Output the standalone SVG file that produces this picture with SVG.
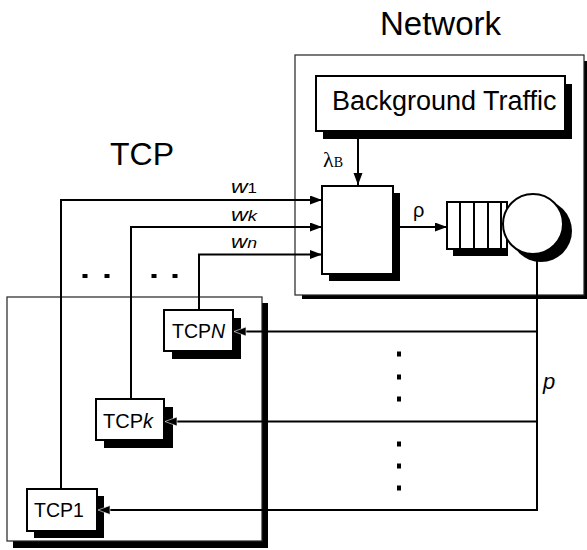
<svg xmlns="http://www.w3.org/2000/svg" width="587" height="550" viewBox="0 0 587 550">
  <style>
    .frame { fill: #fff; stroke: #222; stroke-width: 1.2; }
    .box { fill: #fff; stroke: #000; stroke-width: 2; }
    .shadow { fill: #000; }
    .wire { fill: none; stroke: #000; stroke-width: 2; }
    .sans { font-family: "Liberation Sans", Arial, sans-serif; fill: #000; }
    .serif { font-family: "Liberation Serif", "Times New Roman", serif; fill: #000; }
    .it { font-style: italic; }
    .dot { fill: #000; }
  </style>
  <defs>
    <marker id="arrow" markerUnits="userSpaceOnUse" markerWidth="13" markerHeight="10" refX="12" refY="4.5" orient="auto">
      <path d="M0,0 L12,4.5 L0,9 z" fill="#000"/>
    </marker>
    <marker id="arrowEdge" markerUnits="userSpaceOnUse" markerWidth="14" markerHeight="11" refX="12.5" refY="5" orient="auto">
      <path d="M0.5,0.5 L12.5,5 L0.5,9.5 z" fill="#000" stroke="#fff" stroke-width="0.6"/>
    </marker>
  </defs>

  <!-- titles -->
  <text class="sans" x="380" y="35" font-size="33">Network</text>
  <text class="sans" x="110" y="165" font-size="32">TCP</text>

  <!-- network enclosure -->
  <g id="network">
    <rect class="shadow" x="302" y="61" width="285" height="238"/>
    <rect class="frame" x="295" y="55" width="289" height="240"/>
  </g>

  <!-- TCP enclosure -->
  <g id="tcp-group">
    <rect class="shadow" x="13" y="303" width="255" height="245"/>
    <rect class="frame" x="7" y="297" width="255" height="244"/>
  </g>

  <g id="background-traffic">
    <rect class="shadow" x="323" y="84" width="249" height="55"/>
    <rect class="box" x="316" y="76" width="249" height="55"/>
    <text class="sans" x="332" y="110" font-size="27">Background Traffic</text>
  </g>

  <g id="mux">
    <rect class="shadow" x="329" y="193" width="71" height="88"/>
    <rect class="box" x="322" y="186" width="71" height="88"/>
  </g>

  <g id="queue">
    <rect class="shadow" x="453" y="209" width="55" height="47"/>
    <rect class="box" x="447" y="202" width="60" height="47"/>
    <path class="wire" d="M460,202 V249 M474,202 V249 M488,202 V249 M501,202 V249"/>
    <circle class="shadow" cx="541" cy="231" r="31"/>
    <circle class="box" cx="533" cy="224" r="30"/>
  </g>

  <g id="tcpN">
    <rect class="shadow" x="172" y="318" width="69" height="41"/>
    <rect class="box" x="164" y="310" width="69" height="41"/>
    <text class="sans" x="172" y="338" font-size="19.5">TCP<tspan class="it">N</tspan></text>
  </g>

  <g id="tcpk">
    <rect class="shadow" x="104" y="407" width="69" height="41"/>
    <rect class="box" x="96" y="399" width="68" height="41"/>
    <text class="sans" x="103" y="428" font-size="20">TCP<tspan class="it">k</tspan></text>
  </g>

  <g id="tcp1">
    <rect class="shadow" x="34" y="496" width="70" height="42"/>
    <rect class="box" x="27" y="489" width="70" height="42"/>
    <text class="sans" x="34" y="517" font-size="19.5">TCP1</text>
  </g>

  <!-- connectors -->
  <g id="connectors">
    <path class="wire" d="M358,139 V185" marker-end="url(#arrow)"/>
    <path class="wire" d="M61,489 V200 H322" marker-end="url(#arrow)"/>
    <path class="wire" d="M131,399 V227 H322" marker-end="url(#arrow)"/>
    <path class="wire" d="M199,310 V254.5 H322" marker-end="url(#arrow)"/>
    <path class="wire" d="M393,227 H447" marker-end="url(#arrow)"/>
    <path class="wire" d="M537,255 V510"/>
    <path class="wire" d="M538,331.5 H234" marker-end="url(#arrowEdge)"/>
    <path class="wire" d="M538,421.5 H165" marker-end="url(#arrowEdge)"/>
    <path class="wire" d="M538,510 H98" marker-end="url(#arrowEdge)"/>
  </g>

  <!-- labels -->
  <g id="labels">
    <text class="serif" x="323" y="167" font-size="22">λ<tspan font-size="14">B</tspan></text>
    <text class="sans" x="413" y="217" font-size="20">ρ</text>
    <text class="sans" x="231" y="193" font-size="19" textLength="26" lengthAdjust="spacingAndGlyphs"><tspan class="it">w</tspan><tspan font-size="14">1</tspan></text>
    <text class="sans it" x="231" y="221" font-size="19" textLength="26" lengthAdjust="spacingAndGlyphs">w<tspan font-size="15">k</tspan></text>
    <text class="sans it" x="231" y="248" font-size="19" textLength="26" lengthAdjust="spacingAndGlyphs">w<tspan font-size="15">n</tspan></text>
    <text class="sans it" x="543" y="389" font-size="22">p</text>
  </g>

  <!-- ellipsis marks -->
  <g id="ellipses">
    <rect class="dot" x="82.5" y="274" width="5" height="4"/>
    <rect class="dot" x="104.5" y="274" width="5" height="4"/>
    <rect class="dot" x="151.5" y="274" width="5" height="4"/>
    <rect class="dot" x="172.5" y="274" width="5" height="4"/>
    <rect class="dot" x="397" y="351.5" width="4" height="5"/>
    <rect class="dot" x="397" y="374.5" width="4" height="5"/>
    <rect class="dot" x="397" y="396.5" width="4" height="5"/>
    <rect class="dot" x="397" y="441.5" width="4" height="5"/>
    <rect class="dot" x="397" y="463.5" width="4" height="5"/>
    <rect class="dot" x="397" y="485.5" width="4" height="5"/>
  </g>
</svg>
